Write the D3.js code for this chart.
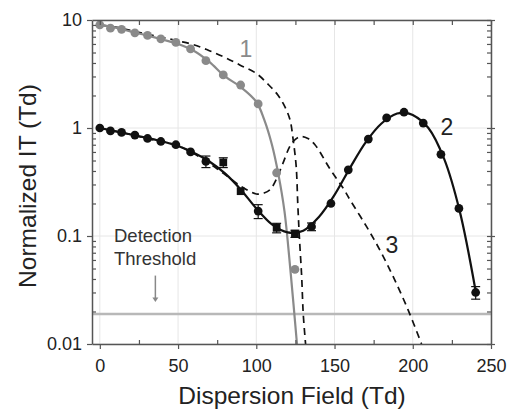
<!DOCTYPE html>
<html>
<head>
<meta charset="utf-8">
<script src="https://cdn.jsdelivr.net/npm/d3@7"></script>
<style>
  body { margin: 0; background: #fff; }
  svg { display: block; font-family: "Liberation Sans", Arial, sans-serif; }
</style>
</head>
<body>
<svg id="chart" width="507" height="409"></svg>
<script>
const width = 507
const height = 409
const marginTop = 20
const marginLeft = 92
const marginRight = 16
const marginBottom = 65

// series 1 (gray) measured points and fit
const field1 = [0, 6.8, 13.9, 22.4, 30.5, 39, 48.6, 58, 67.8, 78.9, 90, 101.2, 113, 124.7]
const it1 = [9.0, 8.4, 8.2, 7.6, 7.2, 6.7, 6.2, 5.4, 4.2, 3.1, 2.5, 1.67, 0.385, 0.049]
const fit1X = [0, 10, 20, 30, 40, 50, 60, 70, 80, 90, 100, 105, 110, 114, 118, 122, 126]
const fit1Y = [9.0, 8.5, 7.8, 7.2, 6.6, 6.0, 5.2, 4.1, 3.0, 2.4, 1.75, 1.2, 0.7, 0.38, 0.17, 0.045, 0.01]
// dashed model curve for 1
const model1X = [0, 10, 20, 30, 40, 50, 60, 70, 80, 90, 100, 108, 114, 118, 121.5, 123.6, 125.5, 126.5, 127.5, 129, 130, 131.5]
const model1Y = [9.0, 8.6, 8.0, 7.4, 6.9, 6.4, 5.9, 5.2, 4.5, 3.8, 3.2, 2.5, 2.0, 1.6, 1.2, 0.77, 0.44, 0.2, 0.1, 0.042, 0.019, 0.01]

// series 2 (black) measured points, error bars, fit
const field2 = [0, 6.8, 13.9, 22.4, 30.5, 39, 48.6, 58, 67.8, 78.9, 90, 101.2, 113, 124.7, 135.3, 147.7, 158.8, 171.6, 183.3, 194.4, 206.7, 218, 229.5, 240.2]
const it2 = [1.0, 0.94, 0.91, 0.86, 0.80, 0.75, 0.70, 0.60, 0.49, 0.48, 0.26, 0.17, 0.119, 0.105, 0.122, 0.20, 0.41, 0.79, 1.24, 1.40, 1.11, 0.57, 0.18, 0.030]
const err2 = [0, 0, 0, 0, 0, 0, 0, 0, 0.06, 0.05, 0, 0.025, 0.012, 0.008, 0.01, 0, 0, 0, 0, 0, 0, 0, 0, 0.004]
const shape2 = ["o", "o", "o", "o", "o", "o", "o", "o", "o", "s", "s", "o", "s", "s", "o", "o", "o", "o", "o", "o", "o", "o", "o", "o"]
const fit2X = [0, 10, 20, 30, 40, 50, 60, 70, 80, 90, 100, 110, 120, 130, 140, 150, 160, 170, 180, 190, 195, 200, 210, 220, 230, 240]
const fit2Y = [1.0, 0.93, 0.87, 0.81, 0.75, 0.68, 0.59, 0.49, 0.38, 0.27, 0.18, 0.128, 0.108, 0.112, 0.15, 0.24, 0.43, 0.74, 1.1, 1.36, 1.38, 1.32, 1.0, 0.52, 0.17, 0.032]
// dashed model curve 3
const model3X = [0, 14, 30, 48, 60, 70, 79, 90, 100, 105, 109, 113, 117, 122.6, 128, 133, 137.5, 147, 155.6, 160, 170.5, 179, 187.5, 197, 205.6]
const model3Y = [1.0, 0.91, 0.80, 0.70, 0.58, 0.47, 0.38, 0.29, 0.245, 0.25, 0.27, 0.34, 0.47, 0.72, 0.83, 0.80, 0.70, 0.42, 0.276, 0.215, 0.122, 0.074, 0.042, 0.0207, 0.01]

const threshold = 0.019
const xTicks = [0, 50, 100, 150, 200, 250]
const xMinor = [25, 75, 125, 175, 225]
const yTicks = [0.01, 0.1, 1, 10]
const yTickLabels = ["0.01", "0.1", "1", "10"]

const gray = "#8a8a8a"
const black = "#111"

const svg = d3.select("#chart")

const x = d3.scaleLinear().domain([-5, 250]).range([marginLeft, width - marginRight])
const y = d3.scaleLog().domain([0.01, 10]).range([height - marginBottom, marginTop])

const yMinor = []
yTicks.slice(0, 3).forEach(d => { for (let k = 2; k < 10; k++) yMinor.push(d * k) })

// grid
svg.append("g")
    .selectAll("line")
    .data(xTicks)
    .join("line")
    .attr("x1", d => x(d)).attr("x2", d => x(d))
    .attr("y1", y(0.01)).attr("y2", y(10))
    .attr("stroke", "#e6e6e6")
svg.append("g")
    .selectAll("line")
    .data(yTicks)
    .join("line")
    .attr("x1", x(-5)).attr("x2", x(250))
    .attr("y1", d => y(d)).attr("y2", d => y(d))
    .attr("stroke", "#e6e6e6")

const line = d3.line().x(d => x(d[0])).y(d => y(d[1])).curve(d3.curveCatmullRom)
const zip = (a, b) => a.map((d, i) => [d, b[i]])

// threshold
svg.append("line")
    .attr("x1", x(-5)).attr("x2", x(250))
    .attr("y1", y(threshold)).attr("y2", y(threshold))
    .attr("stroke", "#b8b8b8")
    .attr("stroke-width", 2.5)

svg.append("path")
    .attr("d", line(zip(model1X, model1Y)))
    .attr("fill", "none").attr("stroke", black)
    .attr("stroke-width", 1.7).attr("stroke-dasharray", "7,5")
svg.append("path")
    .attr("d", line(zip(model3X, model3Y)))
    .attr("fill", "none").attr("stroke", black)
    .attr("stroke-width", 1.7).attr("stroke-dasharray", "7,5")

svg.append("path")
    .attr("d", line(zip(fit1X, fit1Y)))
    .attr("fill", "none").attr("stroke", gray).attr("stroke-width", 2.2)
svg.append("path")
    .attr("d", line(zip(fit2X, fit2Y)))
    .attr("fill", "none").attr("stroke", black).attr("stroke-width", 2.2)

svg.append("g")
    .selectAll("circle")
    .data(zip(field1, it1))
    .join("circle")
    .attr("cx", d => x(d[0])).attr("cy", d => y(d[1]))
    .attr("r", 4.4)
    .attr("fill", gray)

// error bars
const pts2 = field2.map((d, i) => ({ x: d, y: it2[i], e: err2[i], s: shape2[i] }))
const eb = svg.append("g").attr("stroke", black).attr("stroke-width", 1.2)
pts2.filter(d => d.e > 0).forEach(d => {
    eb.append("line").attr("x1", x(d.x)).attr("x2", x(d.x))
        .attr("y1", y(d.y - d.e)).attr("y2", y(d.y + d.e))
    ;[d.y - d.e, d.y + d.e].forEach(v => {
        eb.append("line").attr("x1", x(d.x) - 4.5).attr("x2", x(d.x) + 4.5)
            .attr("y1", y(v)).attr("y2", y(v))
    })
})
svg.append("g")
    .selectAll("path")
    .data(pts2)
    .join("path")
    .attr("transform", d => `translate(${x(d.x)},${y(d.y)})`)
    .attr("d", d => d3.symbol(d.s === "s" ? d3.symbolSquare : d3.symbolCircle, d.s === "s" ? 60 : 60)())
    .attr("fill", black)

// axes
const frame = "#555"
const tickFont = g => g.selectAll("text").attr("font-size", 18).attr("fill", "#222").attr("font-family", "Liberation Sans, Arial, sans-serif")
const styleAxis = g => {
    g.selectAll("line").attr("stroke", frame).attr("stroke-width", 1.2)
    g.selectAll(".domain").attr("stroke", frame).attr("stroke-width", 1.5)
}

svg.append("g")
    .attr("transform", `translate(0,${y(0.01)})`)
    .call(d3.axisBottom(x).tickValues(xTicks).tickSize(5).tickPadding(10).tickSizeOuter(0))
    .call(styleAxis)
    .call(tickFont)
svg.append("g")
    .attr("transform", `translate(0,${y(0.01)})`)
    .call(d3.axisTop(x).tickValues(xMinor).tickSize(4).tickFormat(""))
    .call(g => g.select(".domain").remove())
    .call(styleAxis)
svg.append("g")
    .attr("transform", `translate(0,${y(10)})`)
    .call(d3.axisBottom(x).tickValues(xTicks.concat(xMinor)).tickSize(5).tickFormat("").tickSizeOuter(0))
    .call(styleAxis)

svg.append("g")
    .attr("transform", `translate(${x(-5)},0)`)
    .call(d3.axisLeft(y).tickValues(yTicks).tickSize(5).tickPadding(5).tickSizeOuter(0)
        .tickFormat((d, i) => yTickLabels[i]))
    .call(styleAxis)
    .call(tickFont)
svg.append("g")
    .attr("transform", `translate(${x(-5)},0)`)
    .call(d3.axisRight(y).tickValues(yMinor).tickSize(4).tickFormat(""))
    .call(g => g.select(".domain").remove())
    .call(styleAxis)
svg.append("g")
    .attr("transform", `translate(${x(250)},0)`)
    .call(d3.axisLeft(y).tickValues(yMinor.concat(yTicks)).tickSize(4).tickFormat("").tickSizeOuter(0))
    .call(styleAxis)
svg.append("g")
    .attr("transform", `translate(${x(250)},0)`)
    .call(d3.axisRight(y).tickValues(yTicks).tickSize(4).tickFormat(""))
    .call(g => g.select(".domain").remove())
    .call(styleAxis)

// titles
svg.append("text")
    .attr("x", 292).attr("y", 404)
    .attr("text-anchor", "middle")
    .attr("font-size", 24.5)
    .attr("fill", "#222")
    .text("Dispersion Field (Td)")
svg.append("text")
    .attr("transform", "translate(36,186) rotate(-90)")
    .attr("text-anchor", "middle")
    .attr("font-size", 24.5)
    .attr("fill", "#222")
    .text("Normalized IT (Td)")

// annotations
svg.append("text").attr("x", 114).attr("y", 242).attr("font-size", 18.5).attr("fill", "#333").text("Detection")
svg.append("text").attr("x", 114).attr("y", 265).attr("font-size", 18.5).attr("fill", "#333").text("Threshold")
svg.append("line")
    .attr("x1", x(35.5)).attr("x2", x(35.5))
    .attr("y1", y(0.043)).attr("y2", y(0.026))
    .attr("stroke", "#888").attr("stroke-width", 1.5)
svg.append("path")
    .attr("d", `M${x(35.5) - 3},${y(0.027)} L${x(35.5) + 3},${y(0.027)} L${x(35.5)},${y(0.0245)} Z`)
    .attr("fill", "#888")

svg.append("text").attr("x", 246).attr("y", 57).attr("font-size", 23).attr("text-anchor", "middle").attr("fill", gray).text("1")
svg.append("text").attr("x", 447).attr("y", 135).attr("font-size", 23).attr("text-anchor", "middle").attr("fill", "#222").text("2")
svg.append("text").attr("x", 392).attr("y", 253).attr("font-size", 23).attr("text-anchor", "middle").attr("fill", "#222").text("3")
</script>
</body>
</html>
